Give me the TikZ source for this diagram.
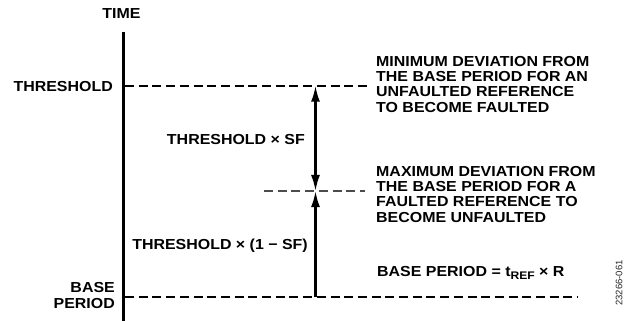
\documentclass[tikz,border=0pt]{standalone}
\usepackage{fontspec}
\setmainfont{Liberation Sans}[FakeStretch=1.1]
\newfontfamily\plainsans{Liberation Sans}
\usetikzlibrary{arrows.meta}
\tikzset{
  lbl/.style={inner sep=0pt, font=\bfseries\fontsize{14.5}{15.3}\selectfont},
  dline/.style={line width=2.3pt, dash pattern=on 9pt off 4.7pt},
  arr/.style={line width=2.2pt, -{Latex[length=16pt,width=9pt]}},
  darr/.style={line width=2.2pt, {Latex[length=16pt,width=9pt]}-{Latex[length=16pt,width=9pt]}},
}
\begin{document}
\begin{tikzpicture}[x=1pt,y=-1pt]
\useasboundingbox (0,0) rectangle (633,321);
% axis
\coordinate (axtop) at (123.3,32);
\coordinate (axbot) at (123.3,321);
\draw[line width=3pt] (axtop) -- (axbot);
\node[lbl, anchor=base] (time) at (121.5,18.4) {TIME};
% dashed levels
\coordinate (thL) at (125,85.7);
\coordinate (thR) at (368,85.7);
\coordinate (midL) at (264,191);
\coordinate (midR) at (365,191);
\coordinate (baseL) at (125,296.7);
\coordinate (baseR) at (578,296.7);
\draw[dline] (thL) -- (thR);
\draw[dline, black!70] (midL) -- (midR);
\draw[dline] (baseL) -- (baseR);
% arrows
\coordinate (arrTop) at (315.5,85.7);
\coordinate (arrMid) at (315.5,191);
\coordinate (arrBot) at (315.5,296.7);
\draw[darr] (arrMid) -- (arrTop);
\draw[arr] (arrBot) -- (arrMid);
% left labels
\node[lbl, anchor=base east] (thr) at (113,91.2) {THRESHOLD};
\node[lbl, anchor=base east] (bp) at (115,292.7) {\begin{tabular}[t]{@{}r@{}}BASE\\PERIOD\end{tabular}};
% middle labels
\node[lbl, anchor=base east] (tsf) at (305,144.2) {THRESHOLD × SF};
\node[lbl, anchor=base east] (tosf) at (308,249.7) {THRESHOLD × (1 − SF)};
% right text blocks
\node[lbl, anchor=base west] (mindev) at (376,66.2) {\begin{tabular}[t]{@{}l@{}}MINIMUM DEVIATION FROM\\THE BASE PERIOD FOR AN\\UNFAULTED REFERENCE\\TO BECOME FAULTED\end{tabular}};
\node[lbl, anchor=base west] (maxdev) at (376,176.2) {\begin{tabular}[t]{@{}l@{}}MAXIMUM DEVIATION FROM\\THE BASE PERIOD FOR A\\FAULTED REFERENCE TO\\BECOME UNFAULTED\end{tabular}};
\node[lbl, anchor=base west] (bpeq) at (377,276.2) {BASE PERIOD = t\raisebox{-3pt}{\fontsize{11}{11}\selectfont REF} × R};
% figure code
\node[inner sep=0pt, rotate=90, font=\plainsans\fontsize{9.5}{10}\selectfont, text=black!85] (code) at (619,283) {23266-061};
\end{tikzpicture}
\end{document}
